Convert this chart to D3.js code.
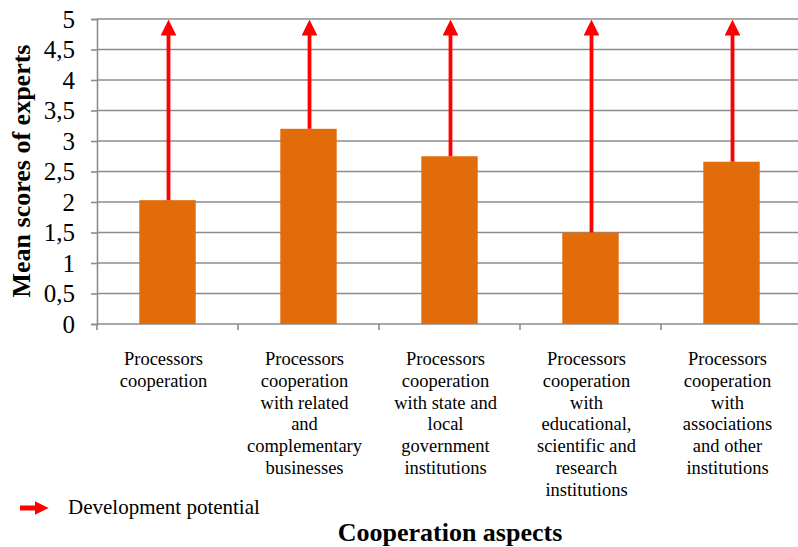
<!DOCTYPE html>
<html><head><meta charset="utf-8">
<script src="https://cdn.jsdelivr.net/npm/d3@7"></script>
<style>body{margin:0;background:#fff}svg{display:block}</style>
</head><body>
<svg id="c" width="798" height="547"></svg>
<script>
const categories = [
  "Processors\ncooperation",
  "Processors\ncooperation\nwith related\nand\ncomplementary\nbusinesses",
  "Processors\ncooperation\nwith state and\nlocal\ngovernment\ninstitutions",
  "Processors\ncooperation\nwith\neducational,\nscientific and\nresearch\ninstitutions",
  "Processors\ncooperation\nwith\nassociations\nand other\ninstitutions"
];
const meanScores = [2.03, 3.2, 2.75, 1.5, 2.66];
const potential = [5, 5, 5, 5, 5];
const yTicks = [0, 0.5, 1, 1.5, 2, 2.5, 3, 3.5, 4, 4.5, 5];
const yTitle = "Mean scores of experts";
const xTitle = "Cooperation aspects";
const legendLabel = "Development potential";

const svg = d3.select("#c");
const serif = "Liberation Serif, Times New Roman, serif";
const m = {left: 97, top: 19, bottom: 324, right: 802};
const x = d3.scaleBand().domain(d3.range(categories.length)).range([m.left, m.right]).paddingInner(0.6).paddingOuter(0.3);
const xb = d3.scaleBand().domain(d3.range(categories.length)).range([m.left, m.right]);
const y = d3.scaleLinear().domain([0, 5]).range([m.bottom, m.top]);
const grid = "#8c8c8c";

// gridlines
svg.append("g").selectAll("line").data(yTicks.filter(d => d > 0)).join("line")
  .attr("x1", m.left).attr("x2", 798).attr("y1", d => y(d)).attr("y2", d => y(d))
  .attr("stroke", grid).attr("stroke-width", 1.6);

// y axis
const ya = svg.append("g").attr("transform", `translate(${m.left},0)`)
  .call(d3.axisLeft(y).tickValues(yTicks).tickSize(6).tickPadding(16).tickFormat(d => String(d).replace(".", ",")));
ya.attr("font-family", serif);
ya.select(".domain").attr("stroke", grid).attr("stroke-width", 1.6);
ya.selectAll(".tick line").attr("stroke", grid).attr("stroke-width", 1.6);
ya.selectAll(".tick text").style("font-family", serif).attr("font-size", 25).attr("fill", "#000");

// x axis baseline and ticks
svg.append("line").attr("x1", m.left).attr("x2", 798).attr("y1", y(0)).attr("y2", y(0))
  .attr("stroke", grid).attr("stroke-width", 1.6);
svg.append("g").selectAll("line").data(d3.range(categories.length + 1)).join("line")
  .attr("x1", i => m.left + i * xb.bandwidth()).attr("x2", i => m.left + i * xb.bandwidth())
  .attr("y1", y(0)).attr("y2", y(0) + 6).attr("stroke", grid).attr("stroke-width", 1.6);

// bars
svg.append("g").selectAll("rect").data(meanScores).join("rect")
  .attr("x", (d, i) => x(i)).attr("width", x.bandwidth())
  .attr("y", d => y(d)).attr("height", d => y(0) - y(d))
  .attr("fill", "#e36c0a");

// arrows
const defs = svg.append("defs");
defs.append("marker").attr("id", "ah").attr("viewBox", "0 0 10 10").attr("refX", 1).attr("refY", 5)
  .attr("markerWidth", 4.2).attr("markerHeight", 4.2).attr("markerUnits", "strokeWidth").attr("orient", "auto")
  .append("path").attr("d", "M0,0 L10,5 L0,10 Z").attr("fill", "#ff0000");
svg.append("g").selectAll("line").data(meanScores).join("line")
  .attr("x1", (d, i) => x(i) + x.bandwidth() / 2 + 1).attr("x2", (d, i) => x(i) + x.bandwidth() / 2 + 1)
  .attr("y1", d => y(d)).attr("y2", (d, i) => y(potential[i]) + 15)
  .attr("stroke", "#ff0000").attr("stroke-width", 3.8).attr("marker-end", "url(#ah)");

// x labels
const lab = svg.append("g").selectAll("text").data(categories).join("text")
  .style("font-family", serif).attr("font-size", 18.5).attr("fill", "#000").attr("text-anchor", "middle")
  .attr("transform", (d, i) => `translate(${xb(i) + xb.bandwidth() / 2 - 4},365)`);
lab.selectAll("tspan").data(d => d.split("\n")).join("tspan")
  .attr("x", 0).attr("y", (d, j) => j * 21.8).text(d => d);

// y title
svg.append("text").attr("transform", "translate(30,171) rotate(-90)")
  .attr("text-anchor", "middle").style("font-family", serif).attr("font-weight", "bold")
  .attr("font-size", 26).attr("fill", "#000").text(yTitle);

// x title
svg.append("text").attr("x", 450).attr("y", 541).attr("text-anchor", "middle")
  .style("font-family", serif).attr("font-weight", "bold").attr("font-size", 26).attr("fill", "#000").text(xTitle);

// legend
defs.append("marker").attr("id", "ah2").attr("viewBox", "0 0 10 10").attr("refX", 1).attr("refY", 5)
  .attr("markerWidth", 2.8).attr("markerHeight", 3.2).attr("markerUnits", "strokeWidth").attr("orient", "auto")
  .append("path").attr("d", "M0,0 L10,5 L0,10 Z").attr("fill", "#ff0000");
svg.append("line").attr("x1", 20).attr("x2", 36).attr("y1", 508).attr("y2", 508)
  .attr("stroke", "#ff0000").attr("stroke-width", 5).attr("marker-end", "url(#ah2)");
svg.append("text").attr("x", 68).attr("y", 514).style("font-family", serif).attr("font-size", 21)
  .attr("fill", "#000").text(legendLabel);
</script>
</body></html>
